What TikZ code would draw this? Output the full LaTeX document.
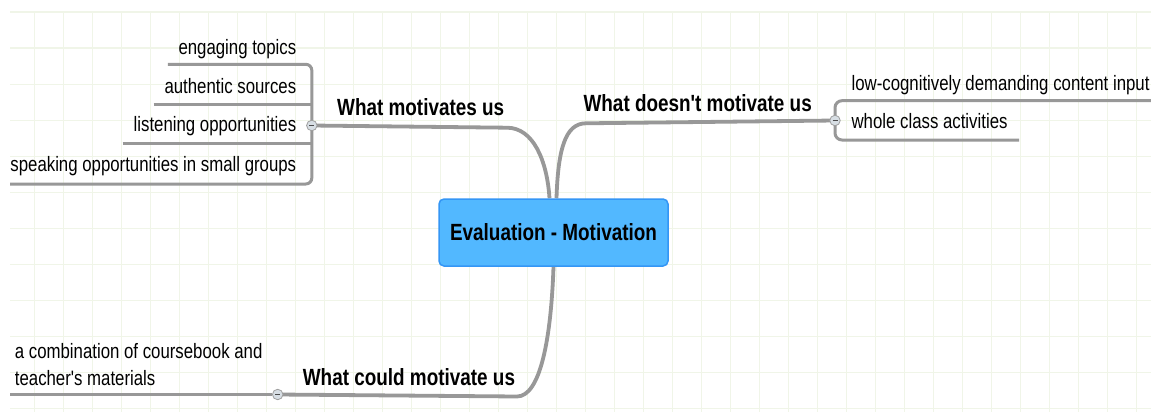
\documentclass[tikz,border=0pt]{standalone}
\usepackage{fontspec}
\setmainfont{Liberation Sans}[Ligatures=TeXOff]
\usepackage{graphicx}
\usetikzlibrary{backgrounds}
\definecolor{gridc}{RGB}{240,245,232}
\definecolor{linec}{RGB}{152,152,152}
\definecolor{boxfill}{RGB}{82,184,255}
\definecolor{boxdraw}{RGB}{52,150,245}
\definecolor{knobfill}{RGB}{215,222,228}
\newcommand{\vs}[1]{\scalebox{1}[1.24]{#1}}
\tikzset{
  gridline/.style={draw=gridc, line width=1.6pt},
  leafL/.style={anchor=base east, inner sep=0pt, font=\fontsize{16.8}{20}\selectfont},
  leafR/.style={anchor=base west, inner sep=0pt, font=\fontsize{16.8}{20}\selectfont},
  topic/.style={anchor=base west, inner sep=0pt, font=\bfseries\fontsize{18.9}{22}\selectfont},
  centerbox/.style={rectangle, rounded corners=5pt, fill=boxfill, draw=boxdraw, line width=1.5pt,
    minimum width=229pt, minimum height=67pt, inner sep=0pt, font=\bfseries\fontsize{18.9}{22}\selectfont},
  branch/.style={draw=linec, line width=3.8pt},
  child/.style={draw=linec, line width=3pt},
  knob/.style={circle, draw=gray!75, fill=knobfill, line width=0.8pt, minimum size=10.5pt, inner sep=0pt,
    path picture={\draw[line width=1.3pt, black!70] ([xshift=-2.5pt]path picture bounding box.center) -- ([xshift=2.5pt]path picture bounding box.center);}}
}
\begin{document}
\begin{tikzpicture}[x=1pt, y=-1pt]
\useasboundingbox (0,0) rectangle (1151,412);

% nodes
\node[centerbox] (center) at (553.5,232.5) {\vs{Evaluation - Motivation}};

\node[topic] (t1) at (337,115) {\vs{What motivates us}};
\node[topic] (t2) at (583.4,111.7) {\vs{What doesn't motivate us}};
\node[topic] (t3) at (302.7,385) {\vs{What could motivate us}};

\node[leafL] (a1) at (296.4,55) {\vs{engaging topics}};
\node[leafL] (a2) at (296.4,93.3) {\vs{authentic sources}};
\node[leafL] (a3) at (296.4,131.7) {\vs{listening opportunities}};
\node[leafL] (a4) at (296.4,171.7) {\vs{speaking opportunities in small groups}};

\node[leafR] (b1) at (851.4,90) {\vs{low-cognitively demanding content input}};
\node[leafR] (b2) at (851.4,128.3) {\vs{whole class activities}};

\node[leafR] (c1) at (14.7,358.3) {\vs{a combination of coursebook and}};
\node[leafR] (c2) at (14.7,385) {\vs{teacher's materials}};

\node[knob] (k1) at (311.8,125.5) {};
\node[knob] (k2) at (835,120.5) {};
\node[knob] (k3) at (277.7,394.5) {};

% line end coordinates
\coordinate (a1e) at (167.9,64.3);
\coordinate (a2e) at (153.6,104);
\coordinate (a3e) at (122.5,143.3);
\coordinate (a4e) at (10,184);
\coordinate (b1e) at (1151,100.7);
\coordinate (b2e) at (1019,140);
\coordinate (c1e) at (10,394.5);

\begin{pgfonlayer}{background}
  \fill[white] (0,0) rectangle (1151,412);
  \foreach \i in {0,...,38} \draw[gridline] ({34.3+29*\i},12.3) -- ({34.3+29*\i},412);
  \foreach \j in {0,...,11} \draw[gridline] (10,{12.3+36*\j}) -- (1151,{12.3+36*\j});

  % left bracket
  \draw[child, rounded corners=6pt] (a1e) -- (a1e -| k1) -- (a4e -| k1) -- (a4e);
  \draw[child] (a2e) -- (a2e -| k1);
  \draw[child] (a3e) -- (a3e -| k1);
  % right bracket
  \draw[child, rounded corners=7pt] (b1e) -- (b1e -| k2) -- (b2e -| k2) -- (b2e);
  % bottom leaf
  \draw[child] (c1e) -- (k3);

  % branches
  \draw[branch] (k1.center) -- (507,127.7) .. controls (533,127.7) and (547,160) .. ([xshift=-4pt]center.north);
  \draw[branch] (k2.center) -- (586,123.3) .. controls (565,123.3) and (558,150) .. ([xshift=3pt]center.north);
  \draw[branch] (k3.center) -- (517,396.5) .. controls (540,396.5) and (551,340) .. (center.south);
\end{pgfonlayer}
\end{tikzpicture}
\end{document}
